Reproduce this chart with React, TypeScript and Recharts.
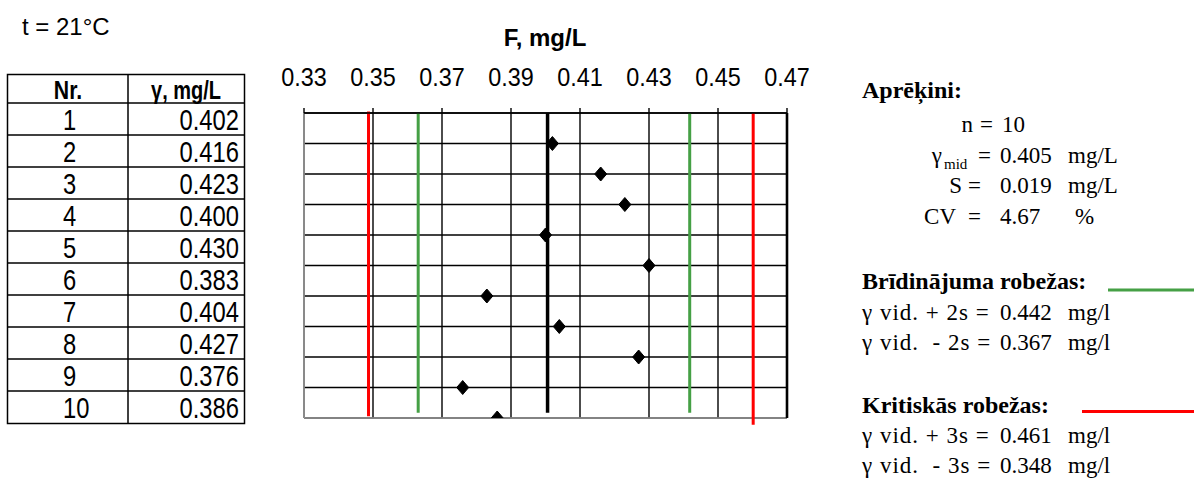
import React from 'react';
import { ScatterChart, Scatter, XAxis, YAxis, CartesianGrid, ReferenceLine } from 'recharts';

// ---- data ----
const sampleNumbers = [1, 2, 3, 4, 5, 6, 7, 8, 9, 10];
const concentrations = [0.402, 0.416, 0.423, 0.4, 0.43, 0.383, 0.404, 0.427, 0.376, 0.386];
const xTicks = [0.33, 0.35, 0.37, 0.39, 0.41, 0.43, 0.45, 0.47];
const rowTicks = [0, 1, 2, 3, 4, 5, 6, 7, 8, 9, 10];
const meanLineValue = 0.4006;
const warningValues = [0.3631, 0.4418];
const criticalValues = [0.3487, 0.4602];
const meanSpan = [0, 9.83];
const warningSpans = [[0, 9.83], [0, 9.83]];
const criticalSpans = [[-0.05, 9.94], [0, 10.22]];

// ---- texts ----
const temperatureLabel = 't = 21°C';
const axisTitle = 'F, mg/L';
const tableHeaders = ['Nr.', 'γ, mg/L'];
const statsTitle = 'Aprēķini:';
const statLabels = ['n', 'γ', 'S', 'CV'];
const statValues = ['10', '0.405', '0.019', '4.67'];
const statUnits = ['', 'mg/L', 'mg/L', '%'];
const warningTitle = 'Brīdinājuma robežas:';
const warningLabels = ['γ vid. + 2s =', 'γ vid.  - 2s ='];
const warningTexts = ['0.442', '0.367'];
const criticalTitle = 'Kritiskās robežas:';
const criticalLabels = ['γ vid. + 3s =', 'γ vid.  - 3s ='];
const criticalTexts = ['0.461', '0.348'];
const limitUnit = 'mg/l';

const SANS = "'Liberation Sans', Arial, sans-serif";
const SERIF = "'Liberation Serif', 'Times New Roman', serif";

const Diamond = (props: any) => {
  const { cx, cy } = props;
  if (cx == null || cy == null) return null;
  return (
    <polygon
      points={`${cx},${cy - 7} ${cx + 6},${cy} ${cx},${cy + 7} ${cx - 6},${cy}`}
      fill="#000"
      stroke="#000"
      strokeWidth={1}
      strokeLinejoin="round"
    />
  );
};

const TickLabel = (props: any) => {
  const { x, y, payload } = props;
  return (
    <text
      transform={`translate(${x} ${y}) scale(0.9 1)`}
      textAnchor="middle"
      fontFamily={SANS}
      fontSize={26}
      fill="#000"
    >
      {Number(payload.value).toFixed(2)}
    </text>
  );
};

export default function App() {
  const data = sampleNumbers.map((n, i) => ({ x: concentrations[i], y: n }));
  const statEq = [980, 978, 968, 968];
  const statLabelEnd = [973, 942, 962, 956];
  const statBase = [132, 163, 193, 224];
  return (
    <div style={{ position: 'absolute', left: 0, top: 0, width: 1194, height: 483, background: '#fff', overflow: 'hidden' }}>
      <div style={{ position: 'absolute', left: 0, top: 0 }}>
        <ScatterChart width={1194} height={483} margin={{ top: 73, right: 407, bottom: 65, left: 304 }}>
          <CartesianGrid stroke="#000" strokeWidth={1.4} />
          <XAxis
            type="number"
            dataKey="x"
            orientation="top"
            domain={[0.33, 0.47]}
            ticks={xTicks}
            interval={0}
            height={40}
            tickSize={5}
            tickMargin={22}
            allowDataOverflow
            axisLine={{ stroke: '#000', strokeWidth: 1.4 }}
            tickLine={{ stroke: '#000', strokeWidth: 1.4 }}
            tick={<TickLabel />}
          />
          <YAxis type="number" dataKey="y" domain={[0, 10]} ticks={rowTicks} reversed hide allowDataOverflow />
          <ReferenceLine x={0.33} stroke="#9a9a9a" strokeWidth={1.6} />
          <ReferenceLine y={10} stroke="#9a9a9a" strokeWidth={1.6} />
          <ReferenceLine x={0.47} stroke="#000" strokeWidth={2.6} />
          {criticalValues.map((v, i) => (
            <ReferenceLine
              key={'c' + i}
              segment={[{ x: v, y: criticalSpans[i][0] }, { x: v, y: criticalSpans[i][1] }]}
              stroke="#ff0000"
              strokeWidth={3}
              ifOverflow="visible"
            />
          ))}
          {warningValues.map((v, i) => (
            <ReferenceLine
              key={'w' + i}
              segment={[{ x: v, y: warningSpans[i][0] }, { x: v, y: warningSpans[i][1] }]}
              stroke="#45a045"
              strokeWidth={3}
              ifOverflow="visible"
            />
          ))}
          <ReferenceLine
            segment={[{ x: meanLineValue, y: meanSpan[0] }, { x: meanLineValue, y: meanSpan[1] }]}
            stroke="#000"
            strokeWidth={3.5}
            ifOverflow="visible"
          />
          <Scatter data={data} shape={Diamond} isAnimationActive={false} />
        </ScatterChart>
      </div>
      <svg width={1194} height={483} style={{ position: 'absolute', left: 0, top: 0, pointerEvents: 'none' }}>
        <text x={22} y={35} fontFamily={SANS} fontSize={24} fill="#000">{temperatureLabel}</text>
        <text x={545} y={46} textAnchor="middle" fontFamily={SANS} fontSize={24} fontWeight="bold" fill="#000">{axisTitle}</text>

        {/* table */}
        <rect x={7.5} y={74.5} width={237} height={349} fill="none" stroke="#000" strokeWidth={1.5} />
        <line x1={128} x2={128} y1={74.5} y2={423.5} stroke="#000" strokeWidth={1.5} />
        {sampleNumbers.map((n, i) => (
          <line key={'hl' + n} x1={7.5} x2={244.5} y1={103 + 32 * i} y2={103 + 32 * i} stroke="#000" strokeWidth={1.5} />
        ))}
        <text transform="translate(68 99) scale(0.85 1)" textAnchor="middle" fontFamily={SANS} fontSize={25} fontWeight="bold">{tableHeaders[0]}</text>
        <text transform="translate(186 99) scale(0.8 1)" textAnchor="middle" fontFamily={SANS} fontSize={25} fontWeight="bold">{tableHeaders[1]}</text>
        {sampleNumbers.map((n, i) => (
          <g key={'row' + n}>
            <text transform={`translate(63 ${103 + 32 * i + 27}) scale(0.82 1)`} fontFamily={SANS} fontSize={29} fill="#000">{n}</text>
            <text transform={`translate(239 ${103 + 32 * i + 27}) scale(0.82 1)`} textAnchor="end" fontFamily={SANS} fontSize={29} fill="#000">{concentrations[i].toFixed(3)}</text>
          </g>
        ))}

        {/* statistics */}
        <g fontFamily={SERIF} fill="#000" fontSize={23}>
          <text x={862} y={98} fontWeight="bold" fontSize={24}>{statsTitle}</text>
          {statLabels.map((l, i) => (
            <g key={'st' + i}>
              <text x={statLabelEnd[i]} y={statBase[i]} textAnchor="end">{l}</text>
              {i === 1 && (
                <text x={944} y={statBase[i] + 6} fontSize={15}>mid</text>
              )}
              <text x={statEq[i]} y={statBase[i]}>=</text>
              <text x={i === 0 ? 1002 : 1000} y={statBase[i]}>{statValues[i]}</text>
              {statUnits[i] && <text x={i === 3 ? 1075 : 1068} y={statBase[i]}>{statUnits[i]}</text>}
            </g>
          ))}

          <text x={862} y={289} fontWeight="bold" fontSize={24}>{warningTitle}</text>
          <line x1={1108} x2={1194} y1={290} y2={290} stroke="#45a045" strokeWidth={3} />
          {warningLabels.map((l, i) => (
            <g key={'wl' + i}>
              <text x={862} y={320 + 30 * i} letterSpacing={1} xmlSpace="preserve">{l}</text>
              <text x={1000} y={320 + 30 * i}>{warningTexts[i]}</text>
              <text x={1068} y={320 + 30 * i}>{limitUnit}</text>
            </g>
          ))}

          <text x={862} y={413} fontWeight="bold" fontSize={24}>{criticalTitle}</text>
          <line x1={1082} x2={1194} y1={411.5} y2={411.5} stroke="#ff0000" strokeWidth={3} />
          {criticalLabels.map((l, i) => (
            <g key={'cl' + i}>
              <text x={862} y={443 + 30 * i} letterSpacing={1} xmlSpace="preserve">{l}</text>
              <text x={1000} y={443 + 30 * i}>{criticalTexts[i]}</text>
              <text x={1068} y={443 + 30 * i}>{limitUnit}</text>
            </g>
          ))}
        </g>
      </svg>
    </div>
  );
}
